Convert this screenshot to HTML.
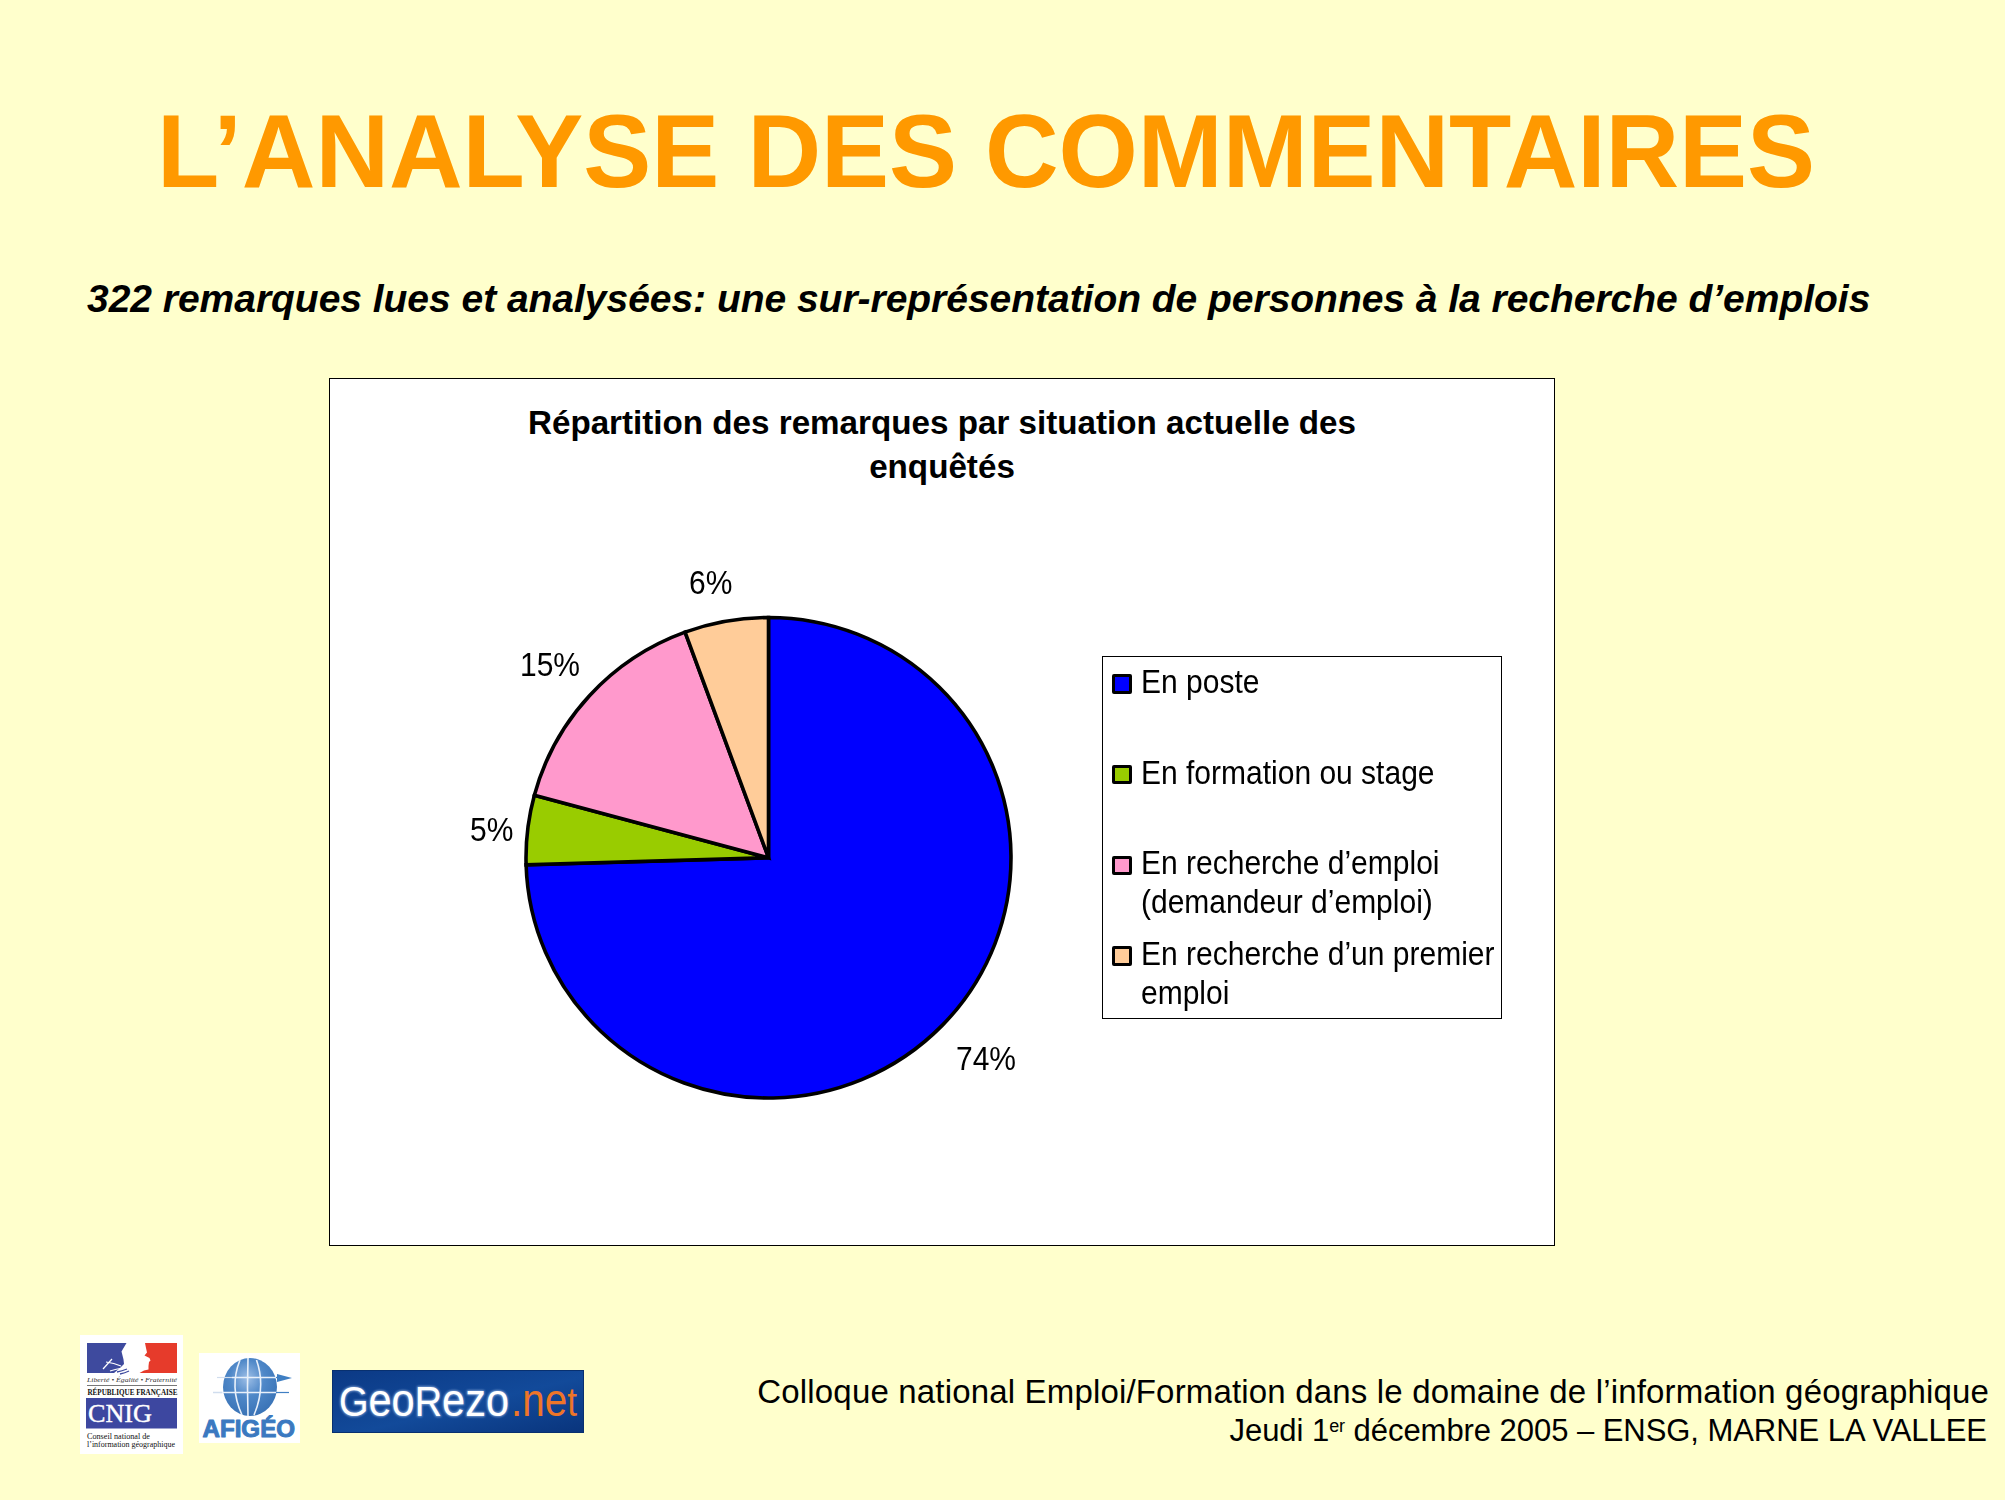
<!DOCTYPE html>
<html><head><meta charset="utf-8">
<style>
html,body{margin:0;padding:0;}
body{width:2005px;height:1500px;background:#FFFFCC;position:relative;overflow:hidden;font-family:"Liberation Sans",sans-serif;}
.abs{position:absolute;white-space:nowrap;}
#title{left:157px;top:91px;letter-spacing:-0.1px;font-size:102px;font-weight:bold;color:#FF9900;line-height:120px;transform:scaleY(1.015);transform-origin:0 24px;}
#sub{left:87px;top:276px;letter-spacing:-0.03px;font-size:39px;font-weight:bold;font-style:italic;color:#000;line-height:46px;}
#chart{left:329px;top:378px;width:1224px;height:866px;background:#fff;border:1px solid #000;}
#ctitle{left:329px;width:1226px;top:401px;text-align:center;font-size:33.2px;font-weight:bold;line-height:44px;color:#000;}
.lbl{font-size:30px;color:#000;line-height:34px;transform:scaleY(1.09);transform-origin:0 27px;}
#legend{left:1102px;top:656px;width:398px;height:361px;border:1px solid #000;background:#fff;}
.lg{font-size:30px;color:#000;line-height:39px;transform:scaleY(1.09);transform-origin:0 30px;}
.sq{position:absolute;width:13.5px;height:13.5px;border:3.5px solid #000;border-radius:2px;}
#foot1{right:16px;top:1372px;font-size:33px;line-height:40px;color:#000;text-align:right;letter-spacing:0.17px;}
#foot2{right:18px;top:1412px;font-size:31px;line-height:38px;color:#000;text-align:right;letter-spacing:-0.05px;}
</style></head>
<body>
<div id="title" class="abs">L’ANALYSE DES COMMENTAIRES</div>
<div id="sub" class="abs">322 remarques lues et analysées: une sur-représentation de personnes à la recherche d’emplois</div>
<div id="chart" class="abs"></div>
<div id="ctitle" class="abs">Répartition des remarques par situation actuelle des<br>enquêtés</div>

<svg class="abs" style="left:0;top:0" width="2005" height="1500" viewBox="0 0 2005 1500">
<g stroke="#000" stroke-width="3.6" stroke-linejoin="miter">
<path d="M768.5,857.75 L768.50,617.50 A242.5,240.25 0 1 1 526.10,864.78 Z" fill="#0000FF"/>
<path d="M768.5,857.75 L526.10,864.78 A242.5,240.25 0 0 1 534.37,795.19 Z" fill="#99CC00"/>
<path d="M768.5,857.75 L534.37,795.19 A242.5,240.25 0 0 1 685.07,632.17 Z" fill="#FF99CC"/>
<path d="M768.5,857.75 L685.07,632.17 A242.5,240.25 0 0 1 768.50,617.50 Z" fill="#FFCC99"/>
</g>
</svg>

<div class="abs lbl" style="left:689px;top:567px;">6%</div>
<div class="abs lbl" style="left:520px;top:649px;">15%</div>
<div class="abs lbl" style="left:470px;top:814px;">5%</div>
<div class="abs lbl" style="left:956px;top:1043px;">74%</div>

<div id="legend" class="abs">
  <div class="sq" style="left:9px;top:17px;background:#0000FF"></div>
  <div class="abs lg" style="left:38px;top:6px;">En poste</div>
  <div class="sq" style="left:9px;top:107.5px;background:#99CC00"></div>
  <div class="abs lg" style="left:38px;top:97px;">En formation ou stage</div>
  <div class="sq" style="left:9px;top:198.5px;background:#FF99CC"></div>
  <div class="abs lg" style="left:38px;top:187px;">En recherche d’emploi</div>
  <div class="abs lg" style="left:38px;top:226px;">(demandeur d’emploi)</div>
  <div class="sq" style="left:9px;top:289px;background:#FFCC99"></div>
  <div class="abs lg" style="left:38px;top:278px;">En recherche d’un premier</div>
  <div class="abs lg" style="left:38px;top:317px;">emploi</div>
</div>


<!-- CNIG logo -->
<svg class="abs" style="left:80px;top:1335px" width="103" height="119" viewBox="80 1335 103 119">
<rect x="80" y="1335" width="103" height="119" fill="#FFFFFF"/>
<path d="M87,1343 L126.5,1343 L121.5,1351.5 L123.5,1359.5 L124,1364 L120,1368 L114,1373 L87,1373 Z" fill="#3E4A9E"/>
<g stroke="#FFFFFF" stroke-width="1.2" fill="none">
<path d="M103,1369 L112,1359"/>
<path d="M106,1362 Q114,1363 121,1366"/>
<path d="M110,1371 Q116,1369 123,1368"/>
</g>
<g stroke="#3E4A9E" stroke-width="1.3" fill="none">
<path d="M117,1372 Q122,1371 127,1369"/>
<path d="M120,1374 Q125,1373 129,1371"/>
</g>
<path d="M145,1343 L177,1343 L177,1373 L139.5,1373 L144,1370.5 L148.5,1369.5 L148.5,1366 L149,1362 L150.5,1360.5 L149.5,1358 L146.5,1356.5 L144.5,1355.5 L147,1352.5 L146,1348 Z" fill="#E63B2B"/>
<text x="87" y="1382.3" font-family="Liberation Serif" font-style="italic" font-size="6.6" fill="#333" textLength="90" lengthAdjust="spacingAndGlyphs">Liberté • Égalité • Fraternité</text>
<rect x="87" y="1385" width="90" height="0.8" fill="#555"/>
<text x="87.5" y="1395" font-family="Liberation Serif" font-weight="bold" font-size="7.2" fill="#111" textLength="90" lengthAdjust="spacingAndGlyphs">RÉPUBLIQUE FRANÇAISE</text>
<rect x="86" y="1398" width="91" height="30.5" fill="#3D47A0"/>
<text x="88" y="1422.3" font-family="Liberation Serif" font-size="25" fill="#FFFFFF" stroke="#FFFFFF" stroke-width="0.4" textLength="64" lengthAdjust="spacingAndGlyphs">CNIG</text>
<text x="87" y="1438.5" font-family="Liberation Serif" font-size="8.2" fill="#111" textLength="63" lengthAdjust="spacingAndGlyphs">Conseil national de</text>
<text x="87" y="1447" font-family="Liberation Serif" font-size="8.2" fill="#111" textLength="88" lengthAdjust="spacingAndGlyphs">l’information géographique</text>
</svg>

<!-- AFIGEO logo -->
<svg class="abs" style="left:199px;top:1353px" width="101" height="90" viewBox="199 1353 101 90">
<defs>
<radialGradient id="gl" cx="0.45" cy="0.35" r="0.7">
<stop offset="0" stop-color="#9DBEE6"/>
<stop offset="0.45" stop-color="#4F88C8"/>
<stop offset="1" stop-color="#3670B4"/>
</radialGradient>
</defs>
<rect x="199" y="1353" width="101" height="90" fill="#FFFFFF"/>
<ellipse cx="250" cy="1387" rx="27" ry="29" fill="url(#gl)"/>
<g stroke="#E8F0FA" stroke-width="1.6" fill="none">
<path d="M232,1377.5 L278,1377.5"/>
<path d="M220,1392.5 L278,1392.5"/>
<path d="M240,1360 Q229,1387 242,1415"/>
<path d="M248,1358 Q247,1387 248,1416"/>
<path d="M256.5,1360 Q266,1387 254,1415"/>
</g>
<path d="M217,1377.5 L232,1377.5" stroke="#D0DDEE" stroke-width="1.2"/>
<path d="M213,1392.5 L222,1392.5" stroke="#D0DDEE" stroke-width="1.5"/>
<path d="M276,1377.5 L283,1377.5" stroke="#3F7FC3" stroke-width="1.2"/>
<path d="M277,1374 L292,1378 L277,1382 Z" fill="#3F7FC3"/>
<path d="M276,1392.5 L289,1392.5" stroke="#3F7FC3" stroke-width="1.2"/>
<text x="202.5" y="1436.5" font-family="Liberation Sans" font-weight="bold" font-size="23.5" fill="#3B79C0" stroke="#3B79C0" stroke-width="1" stroke-linejoin="round" textLength="92.5" lengthAdjust="spacingAndGlyphs">AFIGÉO</text>
</svg>

<!-- GeoRezo logo -->
<svg class="abs" style="left:332px;top:1370px" width="252" height="63" viewBox="332 1370 252 63">
<defs>
<linearGradient id="gr" x1="0" y1="0" x2="1" y2="1">
<stop offset="0" stop-color="#0B3985"/>
<stop offset="0.55" stop-color="#124A9A"/>
<stop offset="1" stop-color="#09347C"/>
</linearGradient>
<filter id="gw" x="-10%" y="-20%" width="120%" height="140%"><feGaussianBlur stdDeviation="0.9"/></filter>
</defs>
<rect x="332" y="1370" width="252" height="63" fill="url(#gr)"/>
<rect x="332.5" y="1370.5" width="251" height="62" fill="none" stroke="#08306F" stroke-width="1"/>
<g font-family="Liberation Sans">
<text x="339" y="1416" font-size="42" fill="#9FBBE6" stroke="#9FBBE6" stroke-width="1.5" opacity="0.8" filter="url(#gw)" textLength="170" lengthAdjust="spacingAndGlyphs">G<tspan font-size="46">eo</tspan>R<tspan font-size="46">ezo</tspan></text>
<text x="339" y="1416" font-size="42" fill="#FFFFFF" textLength="170" lengthAdjust="spacingAndGlyphs">G<tspan font-size="46">eo</tspan>R<tspan font-size="46">ezo</tspan></text>
<text x="511" y="1416" font-size="46" fill="#EE7528" textLength="66" lengthAdjust="spacingAndGlyphs">.ne<tspan font-size="40">t</tspan></text>
</g>
</svg>

<div id="foot1" class="abs">Colloque national Emploi/Formation dans le domaine de l’information géographique</div>
<div id="foot2" class="abs">Jeudi 1<sup style="font-size:18px;vertical-align:top;position:relative;top:-5px;">er</sup> décembre 2005 – ENSG, MARNE LA VALLEE</div>

</body></html>
